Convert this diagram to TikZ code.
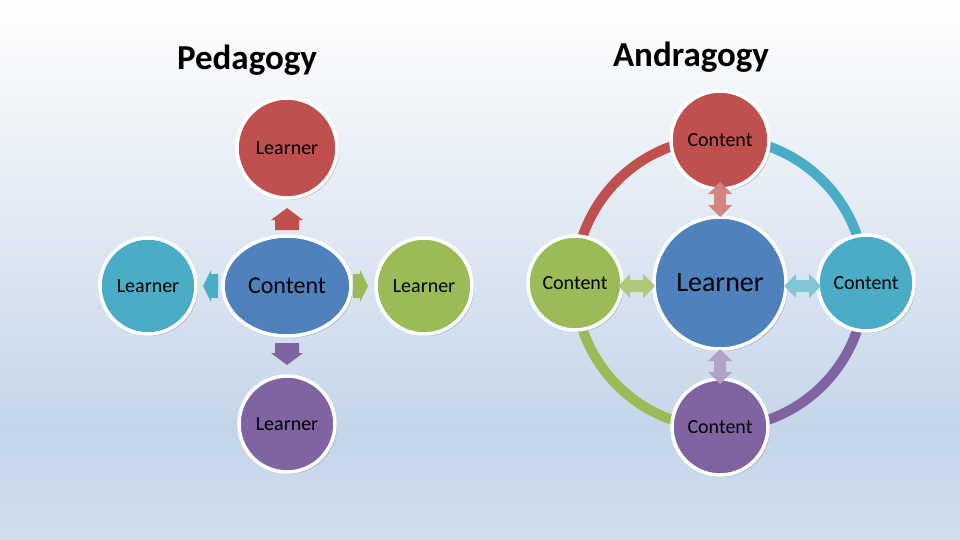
\documentclass[tikz,border=0pt]{standalone}
\usepackage{fontspec}
\setmainfont{Carlito}
\usetikzlibrary{shadows,shapes.geometric}
\definecolor{cred}{HTML}{C0504D}
\definecolor{cteal}{HTML}{4BACC6}
\definecolor{cblue}{HTML}{4F81BD}
\definecolor{cgreen}{HTML}{9BBB59}
\definecolor{cpurp}{HTML}{8064A2}
\tikzset{
 ball/.style={circle,draw=white,line width=3.5pt,minimum size=#1,inner sep=0pt,drop shadow={opacity=0.35,shadow xshift=2pt,shadow yshift=-2pt},font=\fontsize{20}{22}\selectfont},
 lbl/.style={font=\fontsize{20}{22}\selectfont},
 ring/.style={line width=10pt}
}
\begin{document}
\begin{tikzpicture}[x=1pt,y=-1pt]
\shade[top color=white,bottom color=white!40!cblue!55] (0,0) rectangle (960,430);
\shade[top color=white!40!cblue!55,bottom color=white!25!cblue!35] (0,430) rectangle (960,540);
\useasboundingbox (0,0) rectangle (960,540);
\node[font=\fontsize{35}{38}\selectfont\bfseries] (t1) at (247,60) {Pedagogy};
\node[font=\fontsize{35}{38}\selectfont\bfseries] (t2) at (691,57) {Andragogy};
% left diagram
\node[ball=100pt,fill=cred] (lt) at (287,148) {};
\node[lbl] (ltl) at (287,148) {Learner};
\node[ball=96pt,fill=cteal] (ll) at (148,286) {Learner};
\node[ball=96pt,fill=cgreen] (lr) at (424,286) {Learner};
\node[ball=96pt,fill=cpurp] (lb) at (287,424) {};
\node[lbl] (lbl) at (287,424) {Learner};
\node[ellipse,draw=white,line width=3.5pt,minimum width=128pt,minimum height=100pt,fill=cblue,inner sep=0pt,drop shadow={opacity=0.35,shadow xshift=2pt,shadow yshift=-2pt},font=\fontsize{24}{26}\selectfont] (lc) at (287,286) {Content};
\fill[cred] (275,230) -- (275,220) -- (271,220) -- (287,208) -- (303,220) -- (299,220) -- (299,230) -- cycle;
\fill[cpurp] (275,343) -- (275,353) -- (271,353) -- (287,365) -- (303,353) -- (299,353) -- (299,343) -- cycle;
\fill[cteal] (218,274) -- (211,274) -- (211,270) -- (203,286) -- (211,302) -- (211,298) -- (218,298) -- cycle;
\fill[cgreen] (353,274) -- (360,274) -- (360,270) -- (368,286) -- (360,302) -- (360,298) -- (353,298) -- cycle;
% right diagram
\coordinate (rc0) at (720,283);
\draw[ring,cred] (575,283) arc[start angle=180,end angle=270,radius=145];
\draw[ring,cteal] (720,138) arc[start angle=270,end angle=360,radius=145];
\draw[ring,cpurp] (865,283) arc[start angle=0,end angle=90,radius=145];
\draw[ring,cgreen] (720,428) arc[start angle=90,end angle=180,radius=145];
\node[ball=132pt,fill=cblue,font=\fontsize{28}{30}\selectfont] (rc) at (720,283) {Learner};
\node[ball=98pt,fill=cred] (rt) at (720,140) {};
\node[lbl] at (720,140) {Content};
\node[ball=94pt,fill=cgreen] (rl) at (575,283) {Content};
\node[ball=96pt,fill=cteal] (rr) at (866,283) {Content};
\node[ball=96pt,fill=cpurp] (rb) at (720,427) {};
\node[lbl] at (720,427) {Content};
\fill[cred!70] (720,182) -- (732,194) -- (726,194) -- (726,205) -- (732,205) -- (720,217) -- (708,205) -- (714,205) -- (714,194) -- (708,194) -- cycle;
\fill[cpurp!60] (720,349) -- (732,361) -- (726,361) -- (726,372) -- (732,372) -- (720,384) -- (708,372) -- (714,372) -- (714,361) -- (708,361) -- cycle;
\fill[cgreen!80] (618,286) -- (630,274) -- (630,280) -- (643,280) -- (643,274) -- (655,286) -- (643,298) -- (643,292) -- (630,292) -- (630,298) -- cycle;
\fill[cteal!70] (784,286) -- (796,274) -- (796,280) -- (809,280) -- (809,274) -- (821,286) -- (809,298) -- (809,292) -- (796,292) -- (796,298) -- cycle;
\end{tikzpicture}
\end{document}
